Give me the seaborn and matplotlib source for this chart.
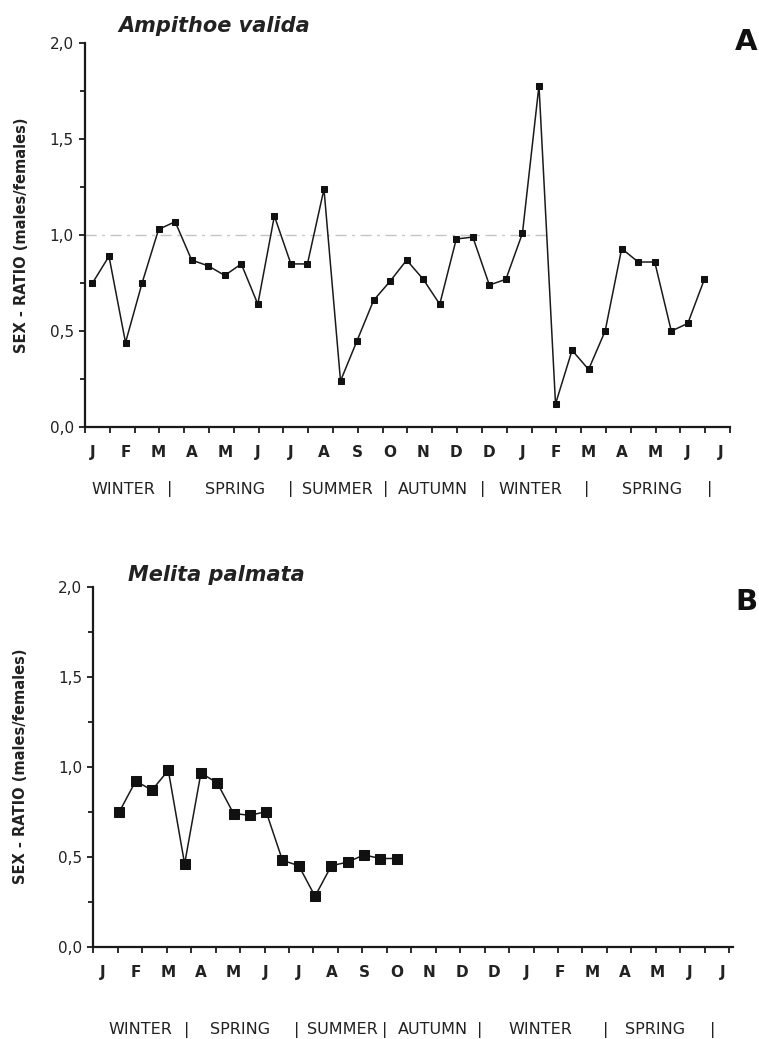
import matplotlib
matplotlib.use('Agg')
import matplotlib.pyplot as plt
import seaborn as sns
import numpy as np
import pandas as pd
from matplotlib.ticker import FuncFormatter

# --- data -----------------------------------------------------------------
# biweekly samples; month labels sit on every second sample position
month_labels = ['J', 'F', 'M', 'A', 'M', 'J', 'J', 'A', 'S', 'O',
                'N', 'D', 'D', 'J', 'F', 'M', 'A', 'M', 'J', 'J']

ampithoe_ratio = [0.75, 0.89, 0.44, 0.75, 1.03, 1.07, 0.87, 0.84, 0.79, 0.85,
                  0.64, 1.10, 0.85, 0.85, 1.24, 0.24, 0.45, 0.66, 0.76, 0.87,
                  0.77, 0.64, 0.98, 0.99, 0.74, 0.77, 1.01, 1.78, 0.12, 0.40,
                  0.30, 0.50, 0.93, 0.86, 0.86, 0.50, 0.54, 0.77]
ampithoe_start = 0

melita_ratio = [0.75, 0.92, 0.87, 0.98, 0.46, 0.965, 0.91, 0.74, 0.73, 0.75,
                0.48, 0.45, 0.28, 0.45, 0.47, 0.51, 0.49, 0.49]
melita_start = 1

season_labels = ['WINTER', '|', 'SPRING', '|', 'SUMMER', '|', 'AUTUMN', '|',
                 'WINTER', '|', 'SPRING', '|']

# where the season words sit (in sample units), per panel
season_pos_a = [1.9, 4.7, 8.6, 12.0, 14.8, 17.75, 20.6, 23.6, 26.5, 29.9, 33.85, 37.35]
season_pos_b = [2.3, 5.1, 8.4, 11.9, 14.7, 17.3, 20.2, 23.1, 26.8, 30.8, 33.85, 37.4]


def comma_fmt(v, pos):
    return f'{v:.1f}'.replace('.', ',')


def draw_panel(fig, rect, values, start, title, letter, marker_size,
               xlim, season_pos, season_y, ylabel_x, month_pad, ref_line=False):
    ax = fig.add_axes(rect)
    df = pd.DataFrame({'pos': np.arange(len(values)) + start, 'ratio': values})

    if ref_line:
        ax.axhline(1.0, xmin=0, xmax=0.72, color='#c4c4c4', lw=1.0,
                   linestyle=(0, (8, 4, 2, 4)), zorder=1)

    sns.lineplot(data=df, x='pos', y='ratio', ax=ax, color='#1a1a1a',
                 linewidth=1.1, marker='s', markersize=marker_size,
                 markeredgecolor='#111111', markerfacecolor='#111111',
                 zorder=3)

    ax.set_xlim(*xlim)
    ax.set_ylim(0, 2.0)
    sns.despine(ax=ax)
    for side in ['left', 'bottom']:
        ax.spines[side].set_linewidth(1.6)
        ax.spines[side].set_color('#1a1a1a')

    # month labels on even positions, tick marks every 1.5 samples
    ax.set_xticks(np.arange(len(month_labels)) * 2)
    ax.set_xticklabels(month_labels, fontsize=11, fontweight='bold', color='#222222')
    ax.set_xticks(np.arange(xlim[0], xlim[1] + 0.01, 1.5), minor=True)
    ax.tick_params(axis='x', which='major', length=0, pad=month_pad)
    ax.tick_params(axis='x', which='minor', length=4, width=1.3, direction='out',
                   color='#1a1a1a')

    ax.set_yticks(np.arange(0, 2.01, 0.5))
    ax.set_yticks(np.arange(0.25, 2.0, 0.5), minor=True)
    ax.yaxis.set_major_formatter(FuncFormatter(comma_fmt))
    ax.tick_params(axis='y', which='major', length=4, width=1.3, labelsize=11,
                   pad=4, color='#1a1a1a', labelcolor='#222222')
    ax.tick_params(axis='y', which='minor', length=3.5, width=1.3, color='#1a1a1a')

    ax.set_xlabel('')
    ax.set_ylabel('SEX - RATIO (males/females)', fontsize=10.5, fontweight='bold',
                  color='#222222')
    ax.yaxis.set_label_coords(ylabel_x, 0.5)

    for txt, xp in zip(season_labels, season_pos):
        ax.text(xp, season_y, txt, transform=ax.get_xaxis_transform(),
                ha='center', va='center', fontsize=11.5, color='#222222')

    fig.text(title[1], title[2], title[0], fontsize=15, fontweight='bold',
             fontstyle='italic', color='#222222', ha='left', va='baseline')
    fig.text(letter[1], letter[2], letter[0], fontsize=21, fontweight='bold',
             color='#111111', ha='center', va='center')
    return ax


def main():
    sns.set_style('ticks')
    plt.rcParams['font.family'] = ['DejaVu Sans']

    W, H = 759, 1039
    fig = plt.figure(figsize=(W / 100, H / 100), dpi=100)

    # panel A
    draw_panel(fig, [85 / W, 1 - 427 / H, 645 / W, 383.7 / H],
               ampithoe_ratio, ampithoe_start,
               ('Ampithoe valida', 118 / W, 1 - 32 / H),
               ('A', 746 / W, 1 - 42 / H),
               marker_size=4.2, xlim=(-0.45, 38.55),
               season_pos=season_pos_a, season_y=-0.162, ylabel_x=-0.087,
               month_pad=13, ref_line=True)

    # panel B
    draw_panel(fig, [93.3 / W, 1 - 946.7 / H, 640 / W, 360 / H],
               melita_ratio, melita_start,
               ('Melita palmata', 128 / W, 1 - 581 / H),
               ('B', 746 / W, 1 - 602 / H),
               marker_size=6.5, xlim=(-0.6, 38.65),
               season_pos=season_pos_b, season_y=-0.231, ylabel_x=-0.102,
               month_pad=13)

    fig.savefig('out.png', dpi=100, facecolor='white')
    plt.close(fig)


if __name__ == '__main__':
    main()
